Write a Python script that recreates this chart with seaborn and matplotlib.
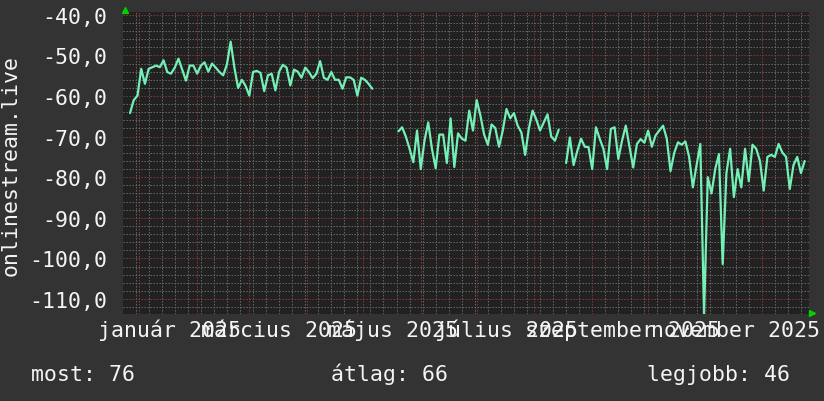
import numpy as np
import pandas as pd
import matplotlib
matplotlib.use("Agg")
import matplotlib.pyplot as plt
import matplotlib.dates as mdates
import matplotlib.ticker as mticker
import seaborn as sns

# ---------------- data ----------------
start_date = "2024-12-27"
step_freq = "2D"
nan = np.nan
values = [
    # first block (Dec - May)
    -64.2, -61.0, -59.9, -53.3, -57.0, -53.3, -52.9, -52.5, -52.9, -51.2,
    -54.1, -54.5, -53.0, -50.8, -53.5, -56.2, -52.5, -52.5, -54.5, -52.5,
    -51.7, -54.0, -52.0, -53.0, -54.1, -54.9, -52.2, -46.6, -53.0, -58.0,
    -56.0, -57.5, -59.9, -54.1, -53.8, -54.3, -58.8, -54.9, -54.5, -58.6,
    -54.0, -52.3, -53.0, -57.4, -53.5, -54.0, -55.5, -53.0, -54.1, -55.6,
    -54.5, -51.4, -55.5, -56.0, -54.1, -56.0, -56.0, -58.2, -55.4, -55.4,
    -56.0, -59.9, -55.5, -56.0, -57.0, -58.2,
    nan, nan, nan, nan, nan, nan,
    # second block (May - Aug)
    -68.7, -67.7, -70.0, -73.0, -76.3, -68.5, -78.0, -71.0, -66.5, -73.0,
    -77.8, -69.5, -69.5, -76.5, -65.5, -77.5, -69.2, -70.5, -71.0, -63.6,
    -68.5, -61.0, -64.8, -69.5, -72.0, -67.0, -67.9, -72.5, -68.5, -63.2,
    -65.5, -64.2, -67.3, -69.0, -74.5, -68.0, -63.6, -65.8, -68.5, -66.5,
    -64.5, -70.0, -71.0, -68.3,
    nan,
    # third block (Aug - Dec)
    -76.5, -70.2, -77.0, -73.5, -70.5, -72.5, -72.6, -78.0, -67.7, -70.5,
    -73.0, -78.0, -68.1, -67.7, -75.5, -71.0, -67.3, -72.5, -77.6, -71.8,
    -70.6, -71.5, -68.5, -72.5, -69.7, -68.5, -67.3, -70.5, -78.5, -74.0,
    -71.4, -72.0, -71.2, -75.0, -82.5, -77.0, -71.8, -114.0, -80.0, -84.0,
    -78.0, -74.3, -101.4, -79.0, -73.0, -84.9, -78.0, -82.5, -73.0, -81.0,
    -72.0, -73.0, -76.0, -83.3, -75.0, -74.5, -75.0, -71.8, -73.9, -75.0,
    -82.9, -77.0, -75.0, -79.0, -76.0,
]
month_labels = ["január 2025", "március 2025", "május 2025",
                "július 2025", "szeptember 2025", "november 2025"]
label_months = [1, 3, 5, 7, 9, 11]
y_ticks = [-40, -50, -60, -70, -80, -90, -100, -110]
y_title = "onlinestream.live"
stats = ["most: 76", "átlag: 66", "legjobb: 46"]

# ---------------- style ----------------
fig_bg = "#333333"
ax_bg = "#212121"
line_color = "#74f0b6"
minor_grid = "#6a6a6a"
major_grid = "#8a3838"
text_color = "#f4f4f4"
arrow_color = "#00d000"

sns.set_theme(style="dark", rc={"figure.facecolor": fig_bg, "axes.facecolor": ax_bg})
plt.rcParams["font.family"] = ["DejaVu Sans Mono", "DejaVu Sans"]
fs = 15.5

df = pd.DataFrame({
    "date": pd.date_range(start_date, periods=len(values), freq=step_freq),
    "value": values,
})
df["segment"] = df["value"].isna().cumsum()
df = df.dropna()

fig = plt.figure(figsize=(8.24, 4.02), dpi=100)
ax = fig.add_axes([123.5 / 824, 1 - 315 / 402, 686 / 824, 302 / 402])
ax.set_facecolor(ax_bg)

sns.lineplot(data=df, x="date", y="value", units="segment", estimator=None,
             color=line_color, lw=1.6, ax=ax, legend=False, zorder=5)

ax.set_xlim(pd.Timestamp("2024-12-23 12:00"), pd.Timestamp("2025-12-26 14:00"))
ax.set_ylim(-113.7, -39.3)

# grid
ax.xaxis.set_major_locator(mdates.MonthLocator())
ax.xaxis.set_minor_locator(mdates.WeekdayLocator(byweekday=mdates.MO))
ax.xaxis.set_major_formatter(mticker.NullFormatter())
ax.yaxis.set_major_locator(mticker.FixedLocator(y_ticks))
ax.yaxis.set_minor_locator(mticker.MultipleLocator(2))
ax.yaxis.set_major_formatter(
    mticker.FuncFormatter(lambda v, p: f"{v:.1f}".replace(".", ",")))

ax.grid(which="minor", color=minor_grid, lw=0.72, ls=(0, (1.4, 1.6)), zorder=1)
ax.grid(which="major", color=major_grid, lw=0.72, ls=(0, (1.4, 1.6)), zorder=2)
ax.set_axisbelow(True)

ax.tick_params(axis="x", which="major", length=3, width=0.75, color=major_grid,
               direction="out", labelbottom=False)
ax.tick_params(axis="x", which="minor", length=3, width=0.75, color=minor_grid,
               direction="out")
ax.tick_params(axis="y", which="both", length=0, pad=12, labelsize=fs,
               labelcolor=text_color)
for s in ax.spines.values():
    s.set_visible(False)
ax.set_xlabel("")
ax.set_ylabel("")

# month labels, centred mid-month
trans = matplotlib.transforms.blended_transform_factory(ax.transData, fig.transFigure)
for m, lab in zip(label_months, month_labels):
    d = pd.Timestamp(2025, m, 1) + pd.Timedelta(days=16)
    ax.text(mdates.date2num(d), 1 - 337 / 402, lab, transform=trans,
            ha="center", va="baseline", fontsize=fs, color=text_color, clip_on=False)

# y title
fig.text(11 / 824, 1 - 165 / 402, y_title, rotation=90, ha="center", va="center",
         fontsize=fs, color=text_color)

# stats line
for xpix, s in zip([31, 331, 647], stats):
    fig.text(xpix / 824, 1 - 381 / 402, s, ha="left", va="baseline",
             fontsize=fs, color=text_color)

# axis arrows
ax.plot([0.002], [1.008], marker="^", ms=4.5, color=arrow_color,
        transform=ax.transAxes, clip_on=False, zorder=6)
ax.plot([1.004], [0.004], marker=">", ms=4.5, color=arrow_color,
        transform=ax.transAxes, clip_on=False, zorder=6)

fig.savefig("out.png", dpi=100, facecolor=fig_bg)
